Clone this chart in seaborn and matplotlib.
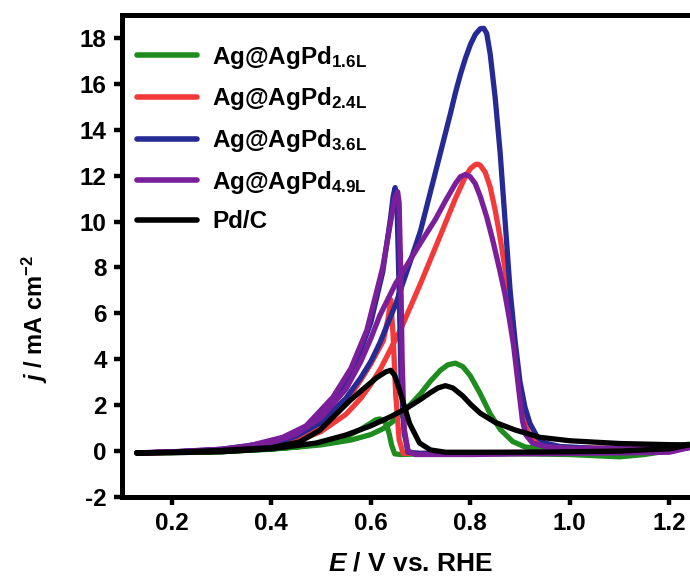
import numpy as np
import pandas as pd
import seaborn as sns
import matplotlib
matplotlib.use("Agg")
import matplotlib.pyplot as plt
from matplotlib.font_manager import FontProperties

# ---------------- data ----------------
samples = ["Ag@AgPd$_{\\mathrm{1.6L}}$", "Ag@AgPd$_{\\mathrm{2.4L}}$",
           "Ag@AgPd$_{\\mathrm{3.6L}}$", "Ag@AgPd$_{\\mathrm{4.9L}}$", "Pd/C"]
colors = ["#1e8c1e", "#f23a3a", "#262a94", "#7a1e9a", "#000000"]

green_E_fwd = [0.13, 0.20, 0.30, 0.36, 0.40, 0.45, 0.50, 0.56, 0.60, 0.625, 0.65, 0.675, 0.70, 0.72, 0.74,
               0.755, 0.77, 0.785, 0.80, 0.82, 0.84, 0.86, 0.885, 0.91, 0.95, 1.00, 1.10, 1.20, 1.24]
green_j_fwd = [-0.08, -0.07, -0.03, 0.05, 0.10, 0.17, 0.27, 0.48, 0.72, 0.98, 1.38, 1.92, 2.50, 3.05, 3.52,
               3.76, 3.83, 3.68, 3.28, 2.50, 1.62, 0.95, 0.42, 0.18, 0.08, 0.05, 0.08, 0.20, 0.30]
green_E_rev = [1.24, 1.20, 1.15, 1.10, 1.05, 1.00, 0.90, 0.80, 0.70, 0.66, 0.648, 0.642, 0.637, 0.632, 0.626,
               0.618, 0.61, 0.60, 0.58, 0.55, 0.50, 0.45, 0.40, 0.30, 0.20, 0.13]
green_j_rev = [0.30, 0.02, -0.15, -0.25, -0.20, -0.15, -0.12, -0.12, -0.12, -0.15, -0.12, 0.25, 0.75, 1.15, 1.32,
               1.40, 1.36, 1.22, 0.95, 0.62, 0.33, 0.18, 0.08, -0.02, -0.06, -0.08]

red_E_fwd = [0.13, 0.20, 0.30, 0.40, 0.45, 0.50, 0.55, 0.58, 0.60, 0.62, 0.66, 0.70, 0.74, 0.77, 0.79, 0.80,
             0.81, 0.815, 0.82, 0.83, 0.84, 0.85, 0.86, 0.87, 0.88, 0.89, 0.90, 0.91, 0.92, 0.935, 0.96, 1.00,
             1.10, 1.20, 1.24]
red_j_fwd = [-0.08, -0.06, 0.0, 0.2, 0.42, 0.85, 1.6, 2.3, 2.9, 3.6, 5.3, 7.3, 9.4, 11.0, 11.95, 12.3,
             12.48, 12.5, 12.45, 12.15, 11.5, 10.5, 9.3, 7.9, 6.3, 4.3, 2.4, 1.2, 0.6, 0.32, 0.2, 0.15,
             0.12, 0.15, 0.2]
red_E_rev = [1.24, 1.20, 1.10, 1.00, 0.90, 0.80, 0.70, 0.665, 0.657, 0.65, 0.645, 0.64, 0.635, 0.625, 0.60,
             0.58, 0.558, 0.53, 0.50, 0.457, 0.40, 0.30, 0.20, 0.13]
red_j_rev = [0.2, 0.02, -0.05, -0.05, -0.06, -0.07, -0.1, -0.1, 0.5, 2.5, 5.0, 6.6, 5.8, 4.8, 3.8,
             3.1, 2.4, 1.7, 1.05, 0.5, 0.2, 0.03, -0.05, -0.08]

blue_E_fwd = [0.13, 0.20, 0.30, 0.40, 0.45, 0.50, 0.55, 0.58, 0.60, 0.618, 0.65, 0.68, 0.70, 0.72, 0.74, 0.76,
              0.77, 0.78, 0.79, 0.80, 0.81, 0.82, 0.827, 0.833, 0.84, 0.85, 0.86, 0.87, 0.88, 0.89, 0.90,
              0.91, 0.92, 0.935, 0.95, 0.98, 1.05, 1.15, 1.24]
blue_j_fwd = [-0.08, -0.05, 0.03, 0.3, 0.65, 1.25, 2.3, 3.2, 3.9, 4.7, 6.4, 8.3, 9.6, 11.3, 13.0, 14.7,
              15.6, 16.4, 17.1, 17.7, 18.15, 18.4, 18.42, 18.2, 17.3, 15.4, 13.0, 10.0, 7.0, 4.8, 3.0,
              1.9, 1.2, 0.6, 0.35, 0.2, 0.12, 0.12, 0.2]
blue_E_rev = [1.24, 1.20, 1.10, 1.00, 0.90, 0.80, 0.70, 0.675, 0.667, 0.661, 0.657, 0.653, 0.649, 0.645, 0.64,
              0.624, 0.60, 0.58, 0.55, 0.524, 0.50, 0.457, 0.40, 0.30, 0.20, 0.13]
blue_j_rev = [0.2, 0.0, -0.05, -0.05, -0.06, -0.08, -0.1, -0.05, 0.8, 3.0, 7.0, 10.5, 11.48, 11.1, 10.2,
              7.8, 5.6, 4.4, 3.0, 2.1, 1.55, 0.85, 0.38, 0.08, -0.04, -0.08]

purple_E_fwd = [0.13, 0.20, 0.30, 0.40, 0.45, 0.50, 0.55, 0.58, 0.60, 0.618, 0.65, 0.698, 0.73, 0.75, 0.77,
                0.78, 0.79, 0.80, 0.81, 0.82, 0.833, 0.845, 0.859, 0.87, 0.879, 0.887, 0.893, 0.90, 0.905,
                0.912, 0.925, 0.95, 1.00, 1.10, 1.20, 1.24]
purple_j_fwd = [-0.08, -0.04, 0.05, 0.35, 0.75, 1.45, 2.7, 3.9, 4.9, 5.9, 7.3, 9.0, 10.1, 10.9, 11.65,
                11.95, 12.05, 11.95, 11.65, 11.1, 10.2, 9.2, 7.9, 6.8, 5.7, 4.6, 3.5, 2.2, 1.3,
                0.7, 0.35, 0.2, 0.12, 0.1, 0.12, 0.15]
purple_E_rev = [1.24, 1.20, 1.10, 1.00, 0.90, 0.80, 0.69, 0.675, 0.667, 0.663, 0.66, 0.657, 0.654, 0.648, 0.64,
                0.624, 0.592, 0.56, 0.524, 0.47, 0.423, 0.35, 0.30, 0.20, 0.13]
purple_j_rev = [0.15, -0.05, -0.08, -0.1, -0.12, -0.15, -0.15, 0.0, 1.0, 4.0, 8.0, 10.8, 11.3, 11.0, 10.0,
                8.0, 5.26, 3.6, 2.35, 1.1, 0.6, 0.2, 0.08, -0.03, -0.08]

black_E_fwd = [0.13, 0.20, 0.30, 0.40, 0.49, 0.55, 0.60, 0.64, 0.672, 0.70, 0.72, 0.735, 0.75, 0.765, 0.785,
               0.80, 0.82, 0.85, 0.89, 0.94, 1.00, 1.10, 1.20, 1.24]
black_j_fwd = [-0.08, -0.07, -0.03, 0.1, 0.35, 0.7, 1.1, 1.5, 1.87, 2.25, 2.55, 2.75, 2.85, 2.75, 2.4,
               2.05, 1.65, 1.25, 0.92, 0.6, 0.45, 0.33, 0.28, 0.27]
black_E_rev = [1.24, 1.20, 1.10, 1.00, 0.90, 0.80, 0.75, 0.72, 0.698, 0.678, 0.658, 0.648, 0.64, 0.63, 0.612,
               0.59, 0.558, 0.53, 0.497, 0.457, 0.40, 0.30, 0.20, 0.13]
black_j_rev = [0.27, 0.1, 0.0, -0.03, -0.05, -0.05, -0.05, 0.05, 0.35, 1.2, 2.65, 3.3, 3.52, 3.45, 3.2,
               2.8, 2.2, 1.6, 0.9, 0.4, 0.15, 0.03, -0.05, -0.08]

x_ticks = [0.2, 0.4, 0.6, 0.8, 1.0, 1.2]
y_ticks = [-2, 0, 2, 4, 6, 8, 10, 12, 14, 16, 18]

# ---------------- build the table ----------------
series = [
    (green_E_fwd + green_E_rev, green_j_fwd + green_j_rev),
    (red_E_fwd + red_E_rev, red_j_fwd + red_j_rev),
    (blue_E_fwd + blue_E_rev, blue_j_fwd + blue_j_rev),
    (purple_E_fwd + purple_E_rev, purple_j_fwd + purple_j_rev),
    (black_E_fwd + black_E_rev, black_j_fwd + black_j_rev),
]
frames = []
for name, (E, j) in zip(samples, series):
    frames.append(pd.DataFrame({"E": E, "j": j, "sample": name, "order": np.arange(len(E))}))
df = pd.concat(frames, ignore_index=True)

# ---------------- style ----------------
sns.set_theme(style="white")
plt.rcParams["font.family"] = ["Liberation Sans", "DejaVu Sans"]
plt.rcParams["font.weight"] = "bold"
plt.rcParams["axes.unicode_minus"] = False
plt.rcParams["text.color"] = "black"
plt.rcParams["axes.labelcolor"] = "black"
plt.rcParams["xtick.color"] = "black"
plt.rcParams["ytick.color"] = "black"
plt.rcParams["mathtext.fontset"] = "custom"
plt.rcParams["mathtext.rm"] = "Liberation Sans:bold"
plt.rcParams["mathtext.bf"] = "Liberation Sans:bold"
plt.rcParams["mathtext.it"] = "Liberation Sans:bold:italic"

fig = plt.figure(figsize=(6.9, 5.81), dpi=100)
# axes extends a little past the right edge of the figure (right spine cut off, as in the reference)
ax = fig.add_axes([0.1768, 0.1446, 0.8365, 0.8296])

palette = dict(zip(samples, colors))
for name in samples:
    sub = df[df["sample"] == name]
    sns.lineplot(data=sub, x="E", y="j", sort=False, estimator=None, color=palette[name],
                 linewidth=3.8, ax=ax, label=name, solid_joinstyle="round", solid_capstyle="round")

ax.set_xlim(0.1, 1.26)
ax.set_ylim(-2, 19)
ax.set_xticks(x_ticks)
ax.set_xticklabels([f"{v:.1f}" for v in x_ticks])
ax.set_yticks(y_ticks)
ax.set_yticklabels([str(v) for v in y_ticks])

for s in ax.spines.values():
    s.set_linewidth(3.6)
    s.set_color("black")
ax.tick_params(axis="both", direction="out", length=6, width=3.2, color="black",
               labelsize=17.5, pad=5, bottom=True, left=True, labelcolor="black")
for lab in ax.get_xticklabels() + ax.get_yticklabels():
    lab.set_fontweight("bold")

ax.set_xlabel("$E$ / V vs. RHE", fontsize=19, fontweight="bold", labelpad=12)
ax.set_ylabel("$j$ / mA cm$^{-2}$", fontsize=17, fontweight="bold")
ax.yaxis.set_label_coords(-0.125, 0.37)

handles, labels = ax.get_legend_handles_labels()
leg = ax.legend(handles, labels, loc="upper left", bbox_to_anchor=(0.026, 0.94), frameon=False,
                handlelength=2.45, handletextpad=0.65, labelspacing=0.6, borderaxespad=0, borderpad=0,
                prop=FontProperties(family="Liberation Sans", weight="bold", size=17.5))
for h in leg.get_lines():
    h.set_linewidth(4.0)
    h.set_solid_capstyle("round")

fig.savefig("out.png", dpi=100)
